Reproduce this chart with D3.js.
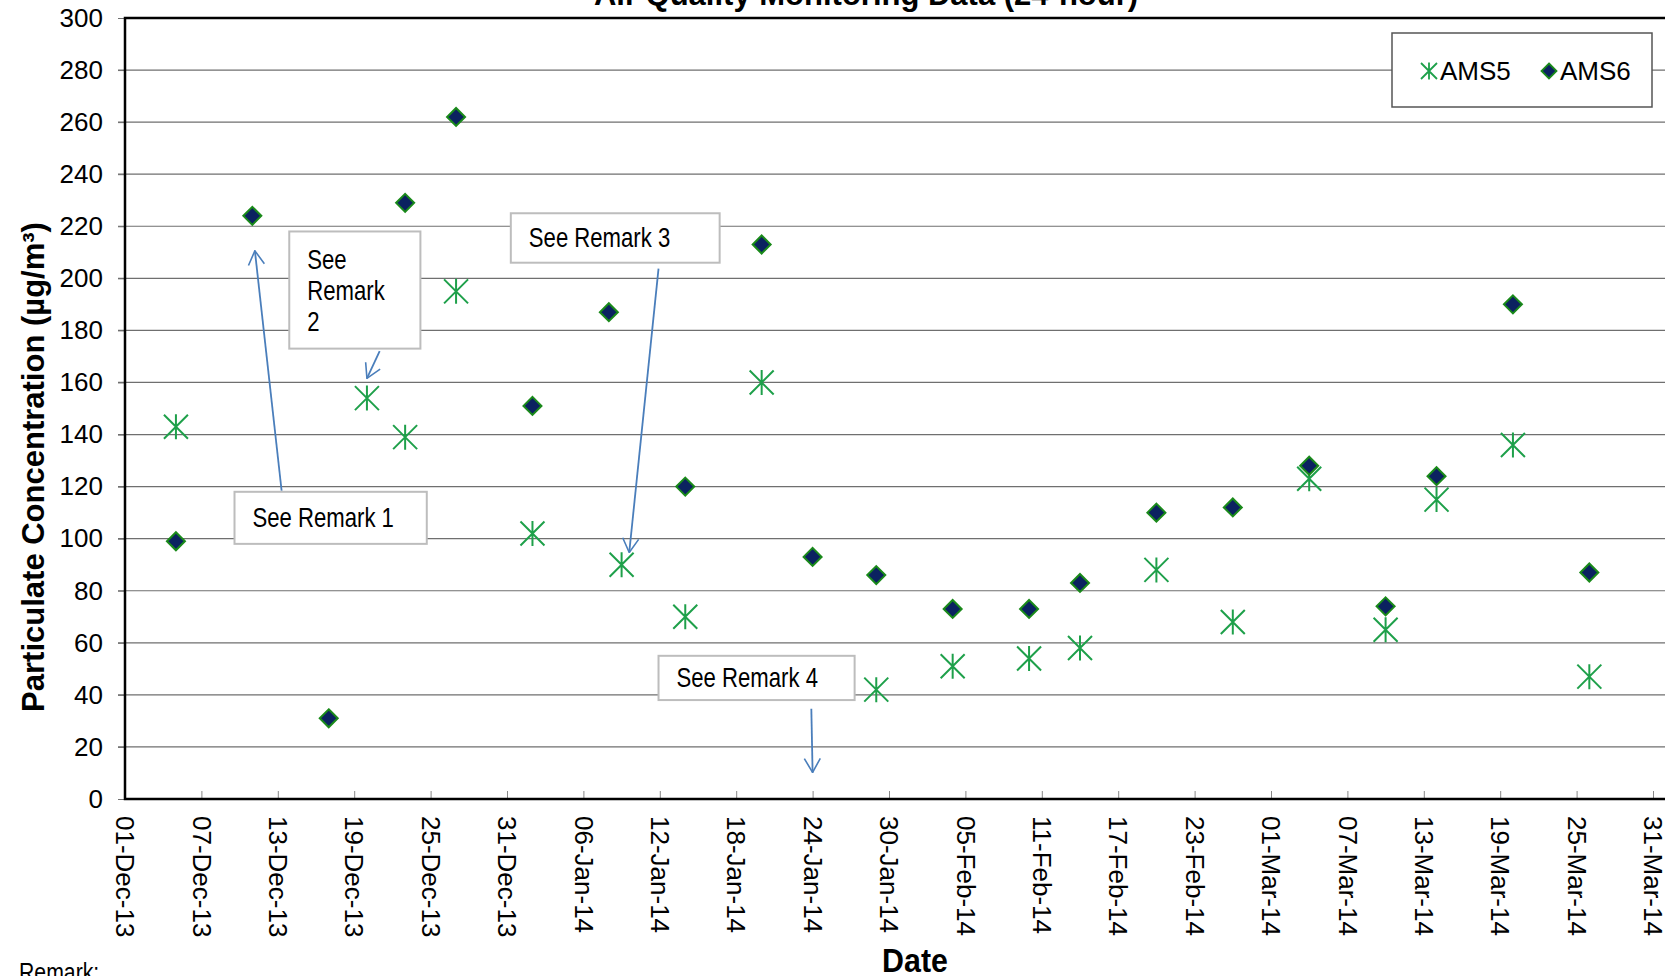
<!DOCTYPE html>
<html>
<head>
<meta charset="utf-8">
<script src="https://cdn.jsdelivr.net/npm/d3@7"></script>
<style>
  body { margin: 0; background: #fff; }
  text { font-family: "Liberation Sans", Arial, sans-serif; }
</style>
</head>
<body>
<script>
var width = 1665;
var height = 976;

// data
var ams5Dates = ["2013-12-05","2013-12-20","2013-12-23","2013-12-27","2014-01-02","2014-01-09","2014-01-14",
  "2014-01-20","2014-01-29","2014-02-04","2014-02-10","2014-02-14","2014-02-20","2014-02-26","2014-03-04",
  "2014-03-10","2014-03-14","2014-03-20","2014-03-26"];
var ams5Values = [143,154,139,195,102,90,70,160,42,51,54,58,88,68,123,65,115,136,47];

var ams6Dates = ["2013-12-05","2013-12-11","2013-12-17","2013-12-23","2013-12-27","2014-01-02","2014-01-08",
  "2014-01-14","2014-01-20","2014-01-24","2014-01-29","2014-02-04","2014-02-10","2014-02-14","2014-02-20",
  "2014-02-26","2014-03-04","2014-03-10","2014-03-14","2014-03-20","2014-03-26"];
var ams6Values = [99,224,31,229,262,151,187,120,213,93,86,73,73,83,110,112,128,74,124,190,87];

var yTicks = d3.range(0, 301, 20);
var xTickDays = d3.range(0, 121, 6);   // every 6 days from 01-Dec-13

// callouts: box corners and arrow ends as [days after 01-Dec-13, value]
var remarkLines = [["See Remark 1"], ["See", "Remark", "2"], ["See Remark 3"], ["See Remark 4"]];
var remarkBoxes = [[[8.6, 118], [23.7, 98]], [[12.9, 218], [23.2, 173]], [[30.3, 225], [46.7, 206]], [[41.9, 55], [57.3, 38]]];
var remarkArrows = [[[12.3, 118.4], [10.2, 210.6]], [[20.0, 172], [19.0, 161.6]], [[41.9, 203.7], [39.6, 94.7]], [[53.9, 34.7], [54.0, 10.2]]];

var parse = d3.timeParse("%Y-%m-%d");
var startDate = new Date(2013, 11, 1);
function dayDate(n) { return new Date(startDate.getTime() + n * 864e5); }

var svg = d3.select('body').append('svg')
  .attr('width', width).attr('height', height);

var x = d3.scaleTime().domain([startDate, dayDate(120)]).range([125, 1653]);
var y = d3.scaleLinear().domain([0, 300]).range([799, 18]);
var plotRight = 1680;

// narrow text (no Arial Narrow here, so squeeze Liberation Sans)
function narrowText(g, tx, ty, size, squeeze, str) {
  return g.append('text')
    .attr('transform', 'translate(' + tx + ',' + ty + ') scale(' + squeeze + ',1)')
    .style('font-size', size + 'px').text(str);
}

// gridlines
svg.append('g').selectAll('line').data(yTicks.slice(1, -1)).enter().append('line')
  .attr('x1', x.range()[0] - 7).attr('x2', plotRight)
  .attr('y1', function(d) { return y(d); }).attr('y2', function(d) { return y(d); })
  .style('stroke', '#6f6f6f').style('stroke-width', 1.2);

// y axis
var yAxis = svg.append('g').attr('transform', 'translate(' + x.range()[0] + ',0)')
  .call(d3.axisLeft(y).tickValues(yTicks).tickSize(7).tickPadding(15));
yAxis.select('.domain').remove();
yAxis.selectAll('.tick line').style('stroke', '#6f6f6f');
yAxis.selectAll('text').style('font-size', '26px').style('fill', '#000')
  .style('font-family', '"Liberation Sans", Arial, sans-serif');

// x axis
var xAxis = svg.append('g').attr('transform', 'translate(0,' + y(0) + ')')
  .call(d3.axisBottom(x).tickValues(xTickDays.map(dayDate)).tickSize(-8).tickFormat(d3.timeFormat('%d-%b-%y')));
xAxis.select('.domain').remove();
xAxis.selectAll('.tick line').style('stroke', '#888');
xAxis.selectAll('text')
  .attr('transform', 'rotate(90)')
  .attr('x', 17).attr('y', 0).attr('dy', '0.36em')
  .style('text-anchor', 'start')
  .style('font-size', '26px').style('fill', '#000')
  .style('font-family', '"Liberation Sans", Arial, sans-serif');

// plot frame
svg.append('path')
  .attr('d', 'M' + plotRight + ',' + y(300) + 'H' + x.range()[0] + 'V' + y(0) + 'H' + plotRight)
  .style('fill', 'none').style('stroke', '#000').style('stroke-width', 2.5);

// callouts
var defs = svg.append('defs');
defs.append('marker').attr('id', 'head')
  .attr('markerUnits', 'userSpaceOnUse')
  .attr('viewBox', '0 0 16 18').attr('refX', 15).attr('refY', 9)
  .attr('markerWidth', 16).attr('markerHeight', 18).attr('orient', 'auto')
  .append('path').attr('d', 'M1,1 L15,9 L1,17')
  .style('fill', 'none').style('stroke', '#4a7ebb').style('stroke-width', 1.6);

remarkArrows.forEach(function(a) {
  svg.append('line')
    .attr('x1', x(dayDate(a[0][0]))).attr('y1', y(a[0][1]))
    .attr('x2', x(dayDate(a[1][0]))).attr('y2', y(a[1][1]))
    .attr('marker-end', 'url(#head)')
    .style('stroke', '#4a7ebb').style('stroke-width', 1.8);
});

remarkBoxes.forEach(function(b, i) {
  var x0 = x(dayDate(b[0][0])), x1 = x(dayDate(b[1][0]));
  var y0 = y(b[0][1]), y1 = y(b[1][1]);
  svg.append('rect')
    .attr('x', x0).attr('y', y0).attr('width', x1 - x0).attr('height', y1 - y0)
    .style('fill', '#fff').style('stroke', '#bdbdbd').style('stroke-width', 2);
  var lines = remarkLines[i];
  var lh = 31;
  var first = y0 + (y1 - y0 - (lines.length - 1) * lh) / 2;
  lines.forEach(function(t, j) {
    narrowText(svg, x0 + 18, first + j * lh, 27, 0.82, t).attr('dy', '0.35em');
  });
});

// symbols
var asterisk = 'M0,-12.5V12.5M-12,-12L12,12M-12,12L12,-12';
var diamond = 'M0,-9L9,0L0,9L-9,0Z';

svg.append('g').selectAll('path').data(d3.zip(ams5Dates, ams5Values)).enter().append('path')
  .attr('transform', function(d) { return 'translate(' + x(parse(d[0])) + ',' + y(d[1]) + ')'; })
  .attr('d', asterisk)
  .style('fill', 'none').style('stroke', '#1ea04a').style('stroke-width', 2);

svg.append('g').selectAll('path').data(d3.zip(ams6Dates, ams6Values)).enter().append('path')
  .attr('transform', function(d) { return 'translate(' + x(parse(d[0])) + ',' + y(d[1]) + ')'; })
  .attr('d', diamond)
  .style('fill', '#0b2260').style('stroke', '#1a8a1a').style('stroke-width', 2);

// legend
var lg = svg.append('g');
lg.append('rect').attr('x', 1392).attr('y', 33).attr('width', 260).attr('height', 74)
  .style('fill', '#fff').style('stroke', '#555').style('stroke-width', 1.5);
lg.append('path').attr('d', 'M0,-8.5V8.5M-8,-8L8,8M-8,8L8,-8').attr('transform', 'translate(1429,71)')
  .style('fill', 'none').style('stroke', '#1ea04a').style('stroke-width', 1.8);
lg.append('text').attr('x', 1440).attr('y', 71).attr('dy', '0.36em').style('font-size', '26px').text('AMS5');
lg.append('path').attr('d', 'M0,-7.5L7.5,0L0,7.5L-7.5,0Z').attr('transform', 'translate(1549,71)')
  .style('fill', '#0b2260').style('stroke', '#1a8a1a').style('stroke-width', 1.8);
lg.append('text').attr('x', 1560).attr('y', 71).attr('dy', '0.36em').style('font-size', '26px').text('AMS6');

// titles
svg.append('text').attr('x', 866).attr('y', 5)
  .style('font-size', '31px').style('font-weight', 'bold').style('text-anchor', 'middle')
  .text('Air Quality Monitoring Data (24-hour)');

svg.append('text')
  .attr('transform', 'translate(44,467) rotate(-90)')
  .style('font-size', '31px').style('font-weight', 'bold').style('text-anchor', 'middle')
  .text('Particulate Concentration (\u00b5g/m\u00b3)');

narrowText(svg, 915, 972, 33, 0.92, 'Date')
  .style('font-weight', 'bold').style('text-anchor', 'middle');

narrowText(svg, 19, 981, 25, 0.85, 'Remark:');
</script>
</body>
</html>
